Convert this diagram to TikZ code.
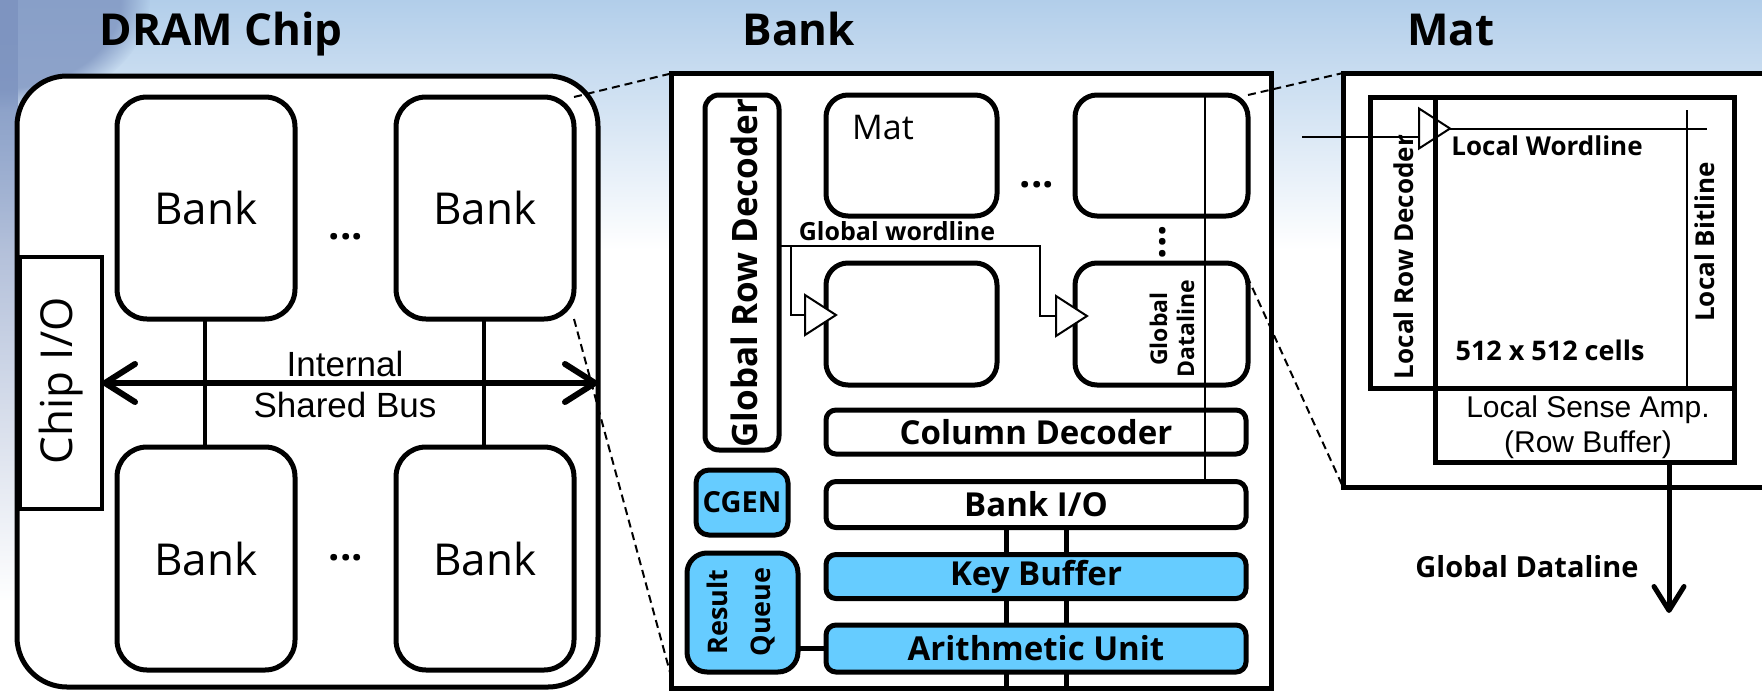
\documentclass[tikz,border=0pt]{standalone}
\usepackage{fontspec}
\setmainfont{Open Sans}
\newfontfamily\arialface{Liberation Sans}
\usetikzlibrary{arrows.meta,fadings}
\definecolor{cellblue}{RGB}{102,204,255}
\definecolor{skytop}{RGB}{178,206,234}
\definecolor{skyleft}{RGB}{126,148,192}
\newcommand{\fsz}[2]{\fontsize{#1}{#2}\selectfont}
\tikzfading[name=fadesouth, top color=transparent!0, bottom color=transparent!100]
\tikzset{
  outline/.style={draw=black, line width=5pt, fill=white, inner sep=0pt, outer sep=0pt},
  rbox/.style={outline, rounded corners=#1},
  bluebox/.style={rbox=#1, fill=cellblue},
  wire/.style={draw=black, line width=2pt},
  bar/.style={draw=black, line width=5pt},
  zoomline/.style={draw=black, line width=2pt, dash pattern=on 8pt off 5pt},
  txt/.style={inner sep=0pt, outer sep=0pt, align=center},
  title/.style={txt, anchor=base, font=\fsz{44}{50}\bfseries},
  boldlbl/.style={txt, font=\fsz{#1}{#1}\bfseries},
  plainlbl/.style={txt, font=\fsz{#1}{#1}},
  buffer/.style={draw=black, line width=2pt, fill=white, line join=miter},
}
\begin{document}
\begin{tikzpicture}[x=1pt, y=-1pt]
\useasboundingbox (0,0) rectangle (1762,691);
\clip (0,0) rectangle (1762,691);

% slide backdrop
\fill[white] (0,0) rectangle (1762,691);
\shade[top color=skytop, bottom color=white] (0,0) rectangle (1762,250);
\fill[skyleft, path fading=fadesouth] (0,0) rectangle (18,600);
\fill[skyleft, opacity=0.8, path fading=circle with fuzzy edge 20 percent] (0,0) ellipse [x radius=150pt, y radius=110pt];

% titles
\node[title] (tchip) at (221,45) {DRAM Chip};
\node[title] (tbank) at (799,45) {Bank};
\node[title] (tmat)  at (1451,45) {Mat};

% ---------------- panels ----------------
\node[rbox=50pt, minimum width=581pt, minimum height=611pt] (chip) at (307.5,381.5) {};
\node[outline, minimum width=600pt, minimum height=615pt] (bank) at (971,381) {};
\node[outline, minimum width=500pt, minimum height=414pt] (matp) at (1593,280) {};

% ---------------- DRAM chip ----------------
\node[outline, line width=4pt, minimum width=82pt, minimum height=252pt] (chipio) at (61,383) {};
\node[plainlbl=44, rotate=90] (chipiot) at (61,381) {Chip I/O};

% bank-to-bus taps
\draw[draw=black, line width=4pt] (205,319) coordinate (tapA) -- (205,447) coordinate (tapB);
\draw[draw=black, line width=4pt] (484,319) coordinate (tapC) -- (484,447) coordinate (tapD);

\node[rbox=30pt, minimum width=178pt, minimum height=222pt, font=\fsz{44}{52}] (bTL) at (206,208) {Bank};
\node[rbox=30pt, minimum width=178pt, minimum height=222pt, font=\fsz{44}{52}] (bTR) at (485,208) {Bank};
\node[rbox=30pt, minimum width=178pt, minimum height=223pt, font=\fsz{44}{52}] (bBL) at (206,558.5) {Bank};
\node[rbox=30pt, minimum width=178pt, minimum height=223pt, font=\fsz{44}{52}] (bBR) at (485,558.5) {Bank};
\node[boldlbl=40] (dotsA) at (346,237) {...};
\node[boldlbl=40] (dotsB) at (346,558) {...};

% internal shared bus
\draw[line width=6pt, {Straight Barb[length=30pt,width=38pt,round]}-{Straight Barb[length=30pt,width=38pt,round]}]
  (chipio.east) -- (chipio.east -| chip.east);
\node[txt, font=\arialface\fsz{35}{40}] (busa) at (345,364) {Internal};
\node[txt, font=\arialface\fsz{35}{40}] (busb) at (345,405) {Shared Bus};

% dashed zoom guides chip -> bank
\coordinate (bankbl) at (671,676);
\draw[zoomline] (bTR.north east) -- (bank.north west);
\draw[zoomline] (bTR.south east) -- (bankbl);

% ---------------- Bank ----------------
\node[rbox=22pt, minimum width=173pt, minimum height=121pt, draw=none, fill=none] (mTRg) at (1161.5,155.5) {};
\coordinate (mBRc) at (1247,276);
\draw[zoomline] (mTRg.north east) -- (matp.north west);
\draw[zoomline] (mBRc) -- (matp.south west);

\node[rbox=14pt, minimum width=74pt, minimum height=355pt] (grd) at (742,272.5) {};
\node[boldlbl=35, rotate=90] (grdt) at (744,273) {Global Row Decoder};

\node[rbox=22pt, minimum width=171pt, minimum height=121pt] (mTL) at (911.5,155.5) {};
\node[rbox=22pt, minimum width=173pt, minimum height=121pt] (mTR) at (1161.5,155.5) {};
\node[rbox=22pt, minimum width=171pt, minimum height=122pt] (mBL) at (911.5,324) {};
\node[rbox=22pt, minimum width=173pt, minimum height=122pt] (mBR) at (1161.5,324) {};
\node[plainlbl=34] (matt) at (883,128) {Mat};
\node[boldlbl=40] (dotsC) at (1037,185) {...};
\node[boldlbl=40, rotate=90] (dotsD) at (1163,242) {...};

\node[rbox=10pt, minimum width=420pt, minimum height=44pt, font=\fsz{33}{40}\bfseries] (coldec) at (1036,432) {Column Decoder};
\node[bluebox=13pt, minimum width=92pt, minimum height=65pt, font=\fsz{29}{34}\bfseries] (cgen) at (742,502.5) {CGEN};
\node[rbox=10pt, minimum width=420pt, minimum height=46pt, font=\fsz{33}{40}\bfseries] (bankio) at (1036,504.5) {Bank I/O};

% data paths below the bank I/O
\coordinate (dpA) at (1006,691);
\coordinate (dpB) at (1066,691);
\draw[bar] (bankio.south -| dpA) -- (dpA);
\draw[bar] (bankio.south -| dpB) -- (dpB);

\node[bluebox=10pt, minimum width=420pt, minimum height=44pt, font=\fsz{33}{40}\bfseries] (keybuf) at (1036,576.5) {Key Buffer};
\node[bluebox=10pt, minimum width=420pt, minimum height=47pt, font=\fsz{33}{40}\bfseries] (alu) at (1036,648.5) {Arithmetic Unit};
\node[bluebox=20pt, minimum width=111pt, minimum height=119pt] (rq) at (742.5,612.5) {};
\node[txt, rotate=90, font=\fsz{27}{43}\bfseries] (rqt) at (741.5,612) {Result\\Queue};
\draw[bar] (alu.west -| rq.east) -- (alu.west);

% global wordline with its two drivers
\coordinate (drvA) at (805,315);
\coordinate (drvB) at (1056,316);
\coordinate (wlturn) at (1040,246);
\coordinate (wlbranch) at (791,246);
\node[boldlbl=25] (wlt) at (897,231) {Global wordline};
\draw[wire] (grd.east |- wlturn) -- (wlturn) -- (wlturn |- drvB) -- (drvB);
\draw[wire] (wlbranch) -- (wlbranch |- drvA) -- (drvA);
\draw[buffer] ([yshift=-20pt]drvA) -- ([xshift=31pt]drvA) -- ([yshift=20pt]drvA) -- cycle;
\draw[buffer] ([yshift=-20pt]drvB) -- ([xshift=31pt]drvB) -- ([yshift=20pt]drvB) -- cycle;

% global dataline
\coordinate (gdx) at (1205,0);
\draw[wire] (mTR.north -| gdx) -- (bankio.north -| gdx);
\node[txt, rotate=90, font=\fsz{23}{27}\bfseries] (gdt) at (1172,329) {Global\\Dataline};

% ---------------- Mat ----------------
\node[outline, minimum width=65pt, minimum height=291pt] (rowdec) at (1402.5,242.5) {};
\node[outline, minimum width=299pt, minimum height=291pt] (cells) at (1584.5,242.5) {};
\node[outline, minimum width=299pt, minimum height=74pt] (senseamp) at (1584.5,425) {};

\node[boldlbl=26, rotate=90] (rdt) at (1404,257) {Local Row Decoder};
\node[boldlbl=26] (lwt) at (1547,146) {Local Wordline};
\node[boldlbl=26, rotate=90] (lbt) at (1705,242) {Local Bitline};
\node[boldlbl=27] (cellt) at (1550,350) {512 x 512 cells};
\node[txt, font=\arialface\fsz{30}{35}] (sat) at (1588,427) {Local Sense Amp.\\(Row Buffer)};

% local wordline driver
\coordinate (lwin) at (1302,137);
\coordinate (lwdrv) at (1419,128.5);
\coordinate (lwend) at (1707,128.5);
\draw[wire] (lwin) -- (lwdrv |- lwin);
\draw[buffer] ([yshift=-20pt]lwdrv) -- ([xshift=31pt]lwdrv) -- ([yshift=20pt]lwdrv) -- cycle;
\draw[line width=5pt] (rowdec.north east) -- (rowdec.south east);
\draw[wire] ([xshift=31pt]lwdrv) -- (lwend);
\draw[wire] (1687,110) coordinate (bltop) -- (bltop |- cells.south);

% output to global dataline
\coordinate (gdout) at (1669,613);
\draw[line width=5pt, -{Straight Barb[length=24pt,width=30pt,round]}] (senseamp.south -| gdout) -- (gdout);
\node[boldlbl=29] (gdlt) at (1527,567) {Global Dataline};
\end{tikzpicture}
\end{document}
